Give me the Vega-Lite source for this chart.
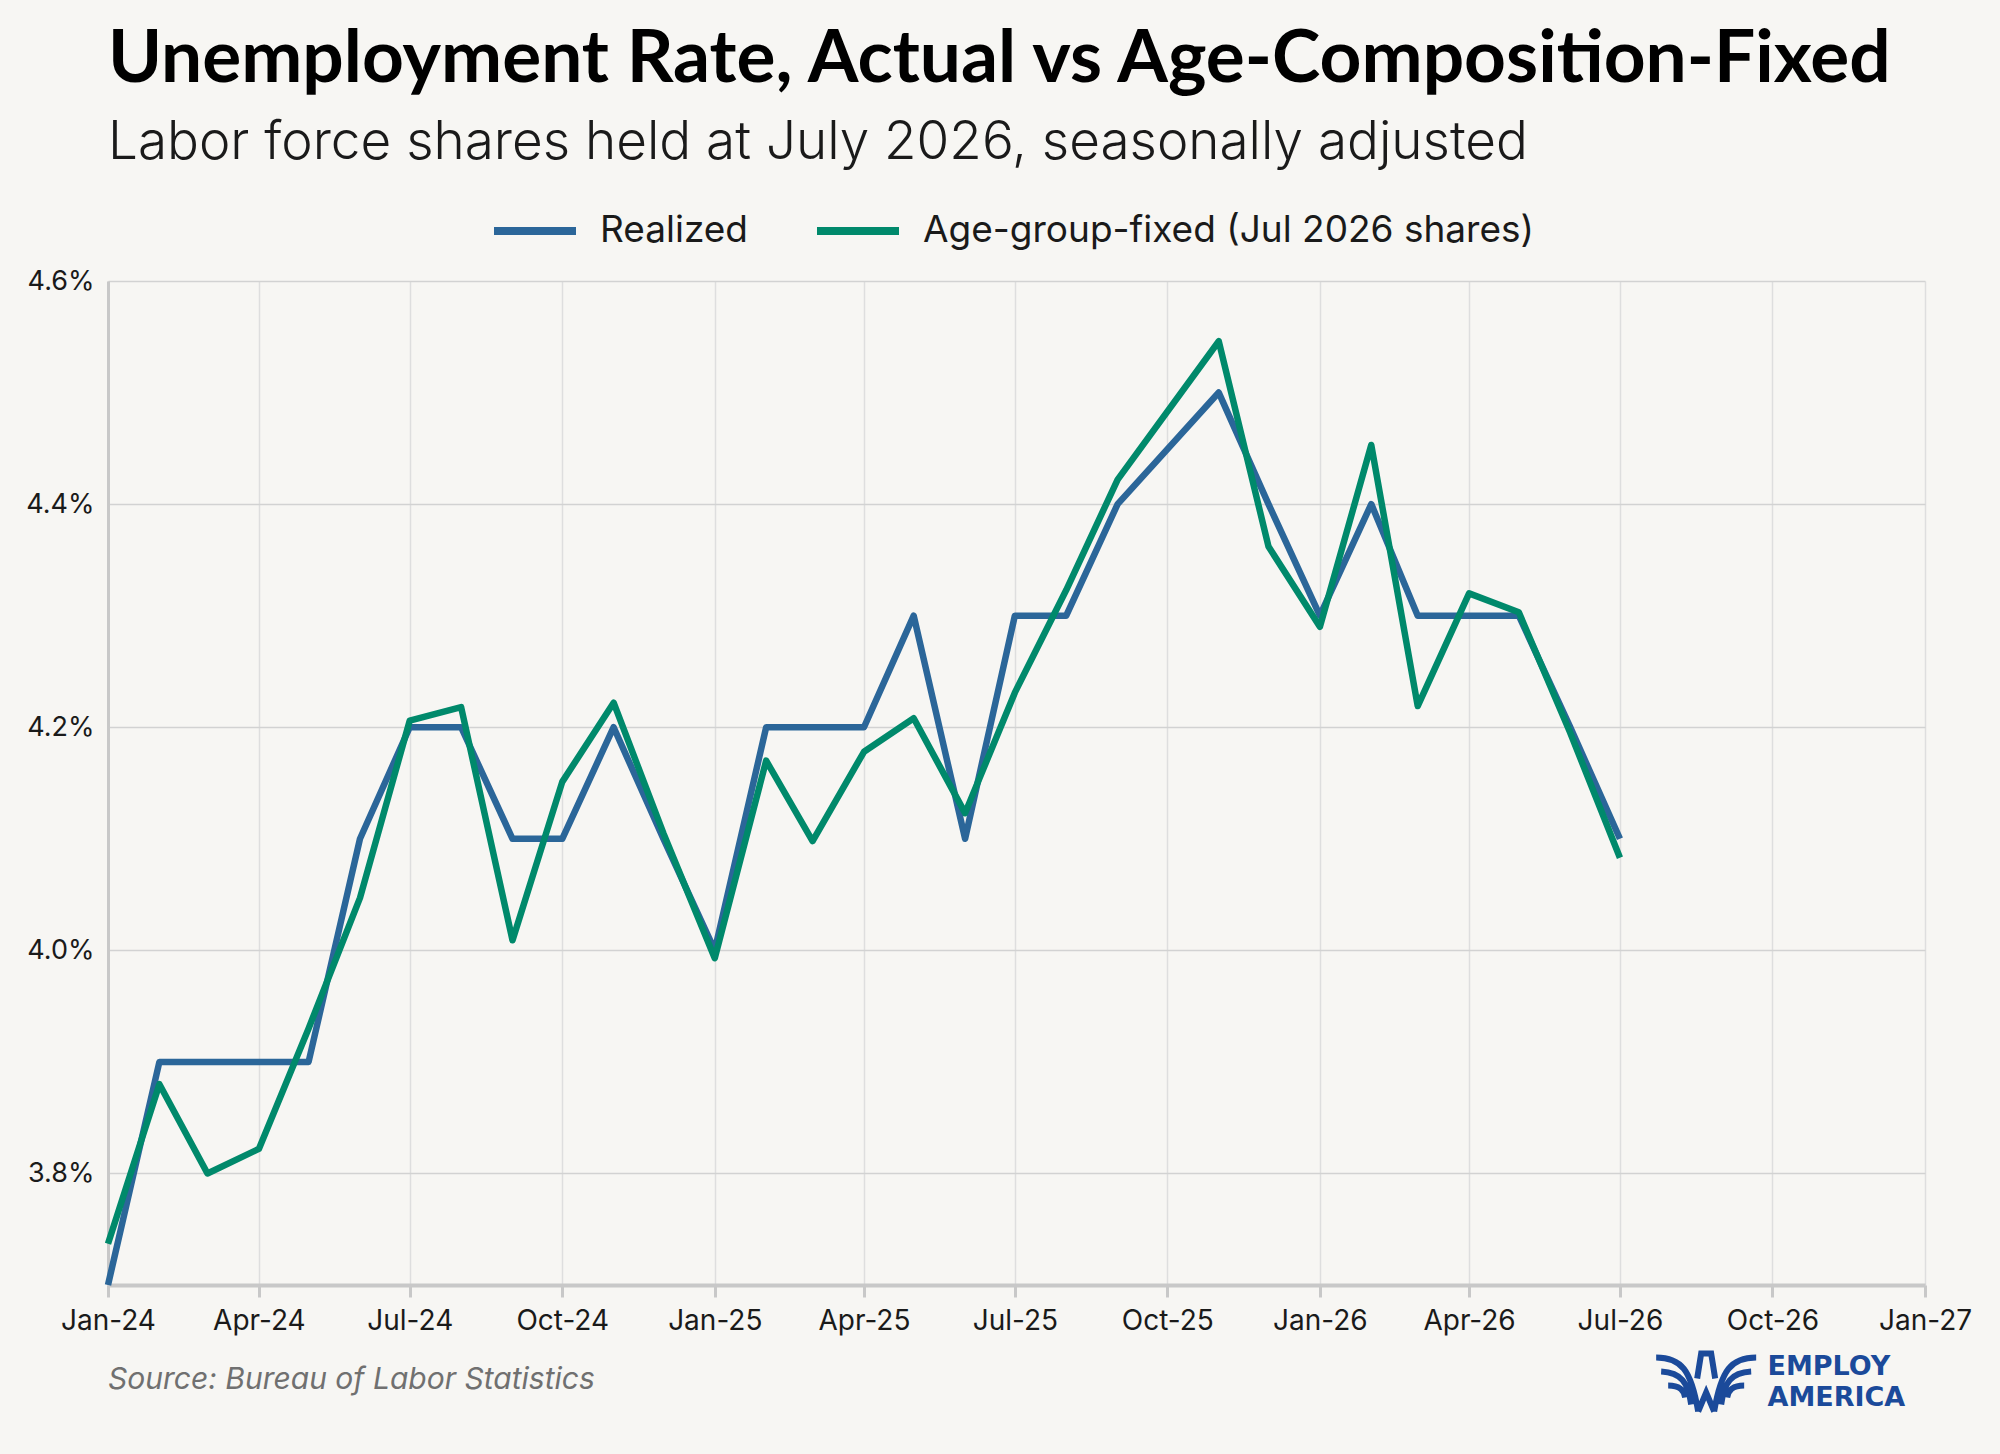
{
  "$schema": "https://vega.github.io/schema/vega-lite/v6.json",
  "width": 1817,
  "height": 1004,
  "autosize": {"type": "none"},
  "padding": {"left": 108, "top": 281, "right": 75, "bottom": 169},
  "background": "#f7f6f3",
  "config": {"view": {"stroke": null}, "font": "Inter"},
  "title": {
    "text": "Unemployment Rate, Actual vs Age-Composition-Fixed",
    "subtitle": "Labor force shares held at July 2026, seasonally adjusted",
    "anchor": "start",
    "frame": "group",
    "offset": 16,
    "font": "Lato",
    "fontSize": 73,
    "fontWeight": "bold",
    "color": "#000000",
    "subtitleFont": "Inter",
    "subtitleFontSize": 53,
    "subtitleFontWeight": 300,
    "subtitleColor": "#1a1a1a",
    "subtitlePadding": 20
  },
  "layer": [
    {
      "data": {
        "values": [
          {"month": "2024-01-01", "series": "Realized", "rate": 3.7},
          {"month": "2024-02-01", "series": "Realized", "rate": 3.9},
          {"month": "2024-03-01", "series": "Realized", "rate": 3.9},
          {"month": "2024-04-01", "series": "Realized", "rate": 3.9},
          {"month": "2024-05-01", "series": "Realized", "rate": 3.9},
          {"month": "2024-06-01", "series": "Realized", "rate": 4.1},
          {"month": "2024-07-01", "series": "Realized", "rate": 4.2},
          {"month": "2024-08-01", "series": "Realized", "rate": 4.2},
          {"month": "2024-09-01", "series": "Realized", "rate": 4.1},
          {"month": "2024-10-01", "series": "Realized", "rate": 4.1},
          {"month": "2024-11-01", "series": "Realized", "rate": 4.2},
          {"month": "2024-12-01", "series": "Realized", "rate": 4.1},
          {"month": "2025-01-01", "series": "Realized", "rate": 4.0},
          {"month": "2025-02-01", "series": "Realized", "rate": 4.2},
          {"month": "2025-03-01", "series": "Realized", "rate": 4.2},
          {"month": "2025-04-01", "series": "Realized", "rate": 4.2},
          {"month": "2025-05-01", "series": "Realized", "rate": 4.3},
          {"month": "2025-06-01", "series": "Realized", "rate": 4.1},
          {"month": "2025-07-01", "series": "Realized", "rate": 4.3},
          {"month": "2025-08-01", "series": "Realized", "rate": 4.3},
          {"month": "2025-09-01", "series": "Realized", "rate": 4.4},
          {"month": "2025-11-01", "series": "Realized", "rate": 4.5},
          {"month": "2025-12-01", "series": "Realized", "rate": 4.4},
          {"month": "2026-01-01", "series": "Realized", "rate": 4.3},
          {"month": "2026-02-01", "series": "Realized", "rate": 4.4},
          {"month": "2026-03-01", "series": "Realized", "rate": 4.3},
          {"month": "2026-04-01", "series": "Realized", "rate": 4.3},
          {"month": "2026-05-01", "series": "Realized", "rate": 4.3},
          {"month": "2026-06-01", "series": "Realized", "rate": 4.2},
          {"month": "2026-07-01", "series": "Realized", "rate": 4.1},
          {"month": "2024-01-01", "series": "Age-group-fixed (Jul 2026 shares)", "rate": 3.737},
          {"month": "2024-02-01", "series": "Age-group-fixed (Jul 2026 shares)", "rate": 3.88},
          {"month": "2024-03-01", "series": "Age-group-fixed (Jul 2026 shares)", "rate": 3.8},
          {"month": "2024-04-01", "series": "Age-group-fixed (Jul 2026 shares)", "rate": 3.822},
          {"month": "2024-05-01", "series": "Age-group-fixed (Jul 2026 shares)", "rate": 3.93},
          {"month": "2024-06-01", "series": "Age-group-fixed (Jul 2026 shares)", "rate": 4.047},
          {"month": "2024-07-01", "series": "Age-group-fixed (Jul 2026 shares)", "rate": 4.206},
          {"month": "2024-08-01", "series": "Age-group-fixed (Jul 2026 shares)", "rate": 4.218},
          {"month": "2024-09-01", "series": "Age-group-fixed (Jul 2026 shares)", "rate": 4.009},
          {"month": "2024-10-01", "series": "Age-group-fixed (Jul 2026 shares)", "rate": 4.151},
          {"month": "2024-11-01", "series": "Age-group-fixed (Jul 2026 shares)", "rate": 4.222},
          {"month": "2024-12-01", "series": "Age-group-fixed (Jul 2026 shares)", "rate": 4.105},
          {"month": "2025-01-01", "series": "Age-group-fixed (Jul 2026 shares)", "rate": 3.993},
          {"month": "2025-02-01", "series": "Age-group-fixed (Jul 2026 shares)", "rate": 4.17},
          {"month": "2025-03-01", "series": "Age-group-fixed (Jul 2026 shares)", "rate": 4.098},
          {"month": "2025-04-01", "series": "Age-group-fixed (Jul 2026 shares)", "rate": 4.178},
          {"month": "2025-05-01", "series": "Age-group-fixed (Jul 2026 shares)", "rate": 4.208},
          {"month": "2025-06-01", "series": "Age-group-fixed (Jul 2026 shares)", "rate": 4.123},
          {"month": "2025-07-01", "series": "Age-group-fixed (Jul 2026 shares)", "rate": 4.231},
          {"month": "2025-08-01", "series": "Age-group-fixed (Jul 2026 shares)", "rate": 4.323},
          {"month": "2025-09-01", "series": "Age-group-fixed (Jul 2026 shares)", "rate": 4.422},
          {"month": "2025-11-01", "series": "Age-group-fixed (Jul 2026 shares)", "rate": 4.546},
          {"month": "2025-12-01", "series": "Age-group-fixed (Jul 2026 shares)", "rate": 4.362},
          {"month": "2026-01-01", "series": "Age-group-fixed (Jul 2026 shares)", "rate": 4.29},
          {"month": "2026-02-01", "series": "Age-group-fixed (Jul 2026 shares)", "rate": 4.453},
          {"month": "2026-03-01", "series": "Age-group-fixed (Jul 2026 shares)", "rate": 4.219},
          {"month": "2026-04-01", "series": "Age-group-fixed (Jul 2026 shares)", "rate": 4.32},
          {"month": "2026-05-01", "series": "Age-group-fixed (Jul 2026 shares)", "rate": 4.303},
          {"month": "2026-06-01", "series": "Age-group-fixed (Jul 2026 shares)", "rate": 4.195},
          {"month": "2026-07-01", "series": "Age-group-fixed (Jul 2026 shares)", "rate": 4.083}
        ]
      },
      "mark": {"type": "line", "strokeWidth": 6.5, "strokeJoin": "round", "strokeCap": "butt"},
      "encoding": {
        "x": {
          "field": "month", "type": "temporal",
          "scale": {"type": "utc", "domain": ["2024-01-01", "2027-01-01"]},
          "axis": {
            "title": null,
            "labelExpr": "utcFormat(datum.value, '%b-%y')",
            "tickCount": {"interval": "month", "step": 3},
            "labelFont": "Inter", "labelFontSize": 28, "labelColor": "#1a1a1a",
            "labelFlush": false, "labelOverlap": false, "labelPadding": 10,
            "tickSize": 12, "tickColor": "#c8c8c8", "tickWidth": 3,
            "domainColor": "#c8c8c8", "domainWidth": 4,
            "gridColor": "#dedede", "gridWidth": 1.5
          }
        },
        "y": {
          "field": "rate", "type": "quantitative",
          "scale": {"domain": [3.7, 4.6], "zero": false},
          "axis": {
            "title": null, "values": [3.8, 4.0, 4.2, 4.4, 4.6],
            "labelExpr": "format(datum.value, '.1f') + '%'",
            "labelFont": "Inter", "labelFontSize": 27, "labelColor": "#1a1a1a",
            "labelPadding": 14, "ticks": false,
            "domainColor": "#c8c8c8", "domainWidth": 3,
            "gridColor": "#d2d2d2", "gridWidth": 1.5
          }
        },
        "color": {
          "field": "series", "type": "nominal",
          "scale": {
            "domain": ["Realized", "Age-group-fixed (Jul 2026 shares)"],
            "range": ["#2b6699", "#00896b"]
          },
          "legend": {
            "orient": "none", "legendX": 382, "legendY": -95,
            "direction": "horizontal", "title": null, "padding": 0,
            "symbolType": "stroke", "symbolSize": 6724, "symbolStrokeWidth": 8,
            "labelFont": "Inter", "labelFontSize": 37, "labelColor": "#1a1a1a",
            "labelOffset": 20, "labelLimit": 0, "columnPadding": 52
          }
        }
      }
    },
    {
      "data": {"values": [{"note": "Source: Bureau of Labor Statistics"}]},
      "mark": {"type": "text", "align": "left", "baseline": "middle", "font": "Inter", "fontStyle": "italic", "fontSize": 30, "color": "#707070"},
      "encoding": {
        "x": {"datum": {"year": 2024, "month": 1, "date": 1, "utc": true}, "type": "temporal"},
        "y": {"datum": 3.615, "type": "quantitative"},
        "text": {"field": "note"}
      }
    },
    {
      "data": {"values": [{"brand": "EMPLOY"}]},
      "mark": {"type": "text", "align": "left", "baseline": "middle", "font": "DejaVu Sans", "fontWeight": "bold", "fontSize": 27, "color": "#1b4a9a"},
      "encoding": {
        "x": {"datum": {"year": 2026, "month": 9, "date": 28, "utc": true}, "type": "temporal"},
        "y": {"datum": 3.6265, "type": "quantitative"},
        "text": {"field": "brand"}
      }
    },
    {
      "data": {"values": [{"brand": "AMERICA"}]},
      "mark": {"type": "text", "align": "left", "baseline": "middle", "font": "DejaVu Sans", "fontWeight": "bold", "fontSize": 27, "color": "#1b4a9a"},
      "encoding": {
        "x": {"datum": {"year": 2026, "month": 9, "date": 28, "utc": true}, "type": "temporal"},
        "y": {"datum": 3.5985, "type": "quantitative"},
        "text": {"field": "brand"}
      }
    },
    {
      "data": {"values": [{"brand": "logo"}]},
      "mark": {
        "type": "point", "filled": false, "size": 10000, "strokeWidth": 6, "strokeCap": "butt",
        "color": "#1b4a9a", "opacity": 1,
        "shape": "M-1,-0.5 C-0.5,-0.5 -0.3,-0.25 -0.16,0.58 M-0.9,-0.22 C-0.5,-0.2 -0.36,0 -0.3,0.44 M-0.76,0.06 C-0.52,0.06 -0.44,0.16 -0.42,0.3 M1,-0.5 C0.5,-0.5 0.3,-0.25 0.16,0.58 M0.9,-0.22 C0.5,-0.2 0.36,0 0.3,0.44 M0.76,0.06 C0.52,0.06 0.44,0.16 0.42,0.3 M-0.18,-0.08 L-0.1,-0.58 L0.1,-0.58 L0.18,-0.08 M-0.16,0.58 L0,0.2 L0.16,0.58"
      },
      "encoding": {
        "x": {"datum": {"year": 2026, "month": 8, "date": 22, "utc": true}, "type": "temporal"},
        "y": {"datum": 3.6126, "type": "quantitative"}
      }
    }
  ]
}
